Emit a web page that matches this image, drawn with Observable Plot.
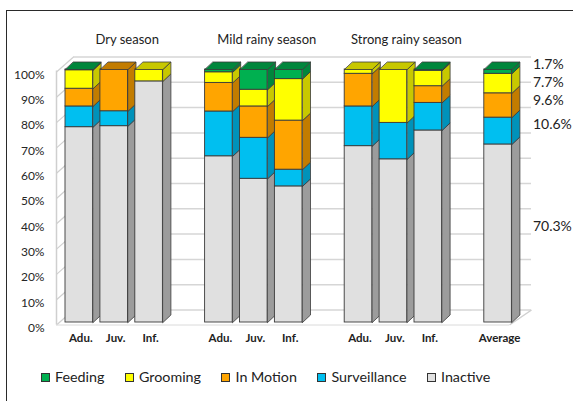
<!DOCTYPE html>
<html><head><meta charset="utf-8">
<script src="https://cdn.jsdelivr.net/npm/d3@7"></script>
<script src="https://cdn.jsdelivr.net/npm/@observablehq/plot@0.6"></script>
<style>
html,body{margin:0;padding:0;background:#fff;overflow:hidden;width:573px;height:401px;}
#chart{position:absolute;left:0;top:0;}
#frame{position:absolute;left:6px;top:10px;width:620px;height:440px;border:1.5px solid #2a2a2a;box-sizing:border-box;pointer-events:none;}
#legend{position:absolute;left:41px;top:368px;display:flex;gap:20.5px;font-family:Lato,sans-serif;font-size:14.3px;color:#222;line-height:18px;}
.item{display:flex;align-items:center;}
.sw{width:7px;height:7px;border:1px solid #333;margin-right:5px;}
</style></head>
<body><div id="chart"></div><div id="frame"></div><div id="legend"></div>
<script>
// ---- data ----
const groups = ["Dry season", "Mild rainy season", "Strong rainy season", "Average"];
const barGroup = [0, 0, 0, 1, 1, 1, 2, 2, 2, 3];
const barLabels = ["Adu.", "Juv.", "Inf.", "Adu.", "Juv.", "Inf.", "Adu.", "Juv.", "Inf.", "Average"];
const inactive     = [77.2, 77.6, 95.3, 65.7, 56.8, 53.8, 69.7, 64.5, 75.9, 70.3];
const surveillance = [8.2, 5.9, 0, 17.7, 16.2, 6.6, 15.7, 14.4, 10.9, 10.6];
const inMotion     = [7.0, 16.5, 0, 11.3, 12.4, 19.4, 12.9, 0, 6.6, 9.6];
const grooming     = [7.3, 0, 4.7, 4.2, 6.6, 16.4, 1.7, 21.1, 6.1, 7.7];
const feeding      = [0.3, 0, 0, 1.1, 8.0, 3.8, 0, 0, 0.5, 1.7];
const stackOrder = ["Inactive", "Surveillance", "In Motion", "Grooming", "Feeding"];
const legendOrder = ["Feeding", "Grooming", "In Motion", "Surveillance", "Inactive"];
const yTicks = [0, 10, 20, 30, 40, 50, 60, 70, 80, 90, 100];

const series = {"Inactive": inactive, "Surveillance": surveillance, "In Motion": inMotion, "Grooming": grooming, "Feeding": feeding};
const frontColor = {"Feeding": "#00b050", "Grooming": "#ffff00", "In Motion": "#ffa500", "Surveillance": "#00bff0", "Inactive": "#e0e0e0"};
const sideColor  = {"Feeding": "#00863c", "Grooming": "#c8c800", "In Motion": "#c27c00", "Surveillance": "#0092ba", "Inactive": "#9c9c9c"};

// ---- geometry helpers (pixel constants -> data units via Plot scales) ----
const SLOT_PX = 34.9, X0 = 65;
const xOpt = {type: "linear", domain: [0, 13], range: [X0, X0 + 13 * SLOT_PX]};
const yOpt = {type: "linear", domain: [0, 100], range: [322, 69]};
const X = Plot.scale({x: xOpt});
const Y = Plot.scale({y: yOpt});
const ux = px => X.invert(px);
const dxu = px => X.invert(X0 + px) - X.invert(X0);
const dyu = px => Y.invert(Y.apply(0) - px);   // upward pixels -> data units
const W = dxu(27.6), DX = dxu(8), DY = dyu(7.5);
const wallDY = dyu(12.5), frontDY = dyu(-2.5);

// slot positions from group membership
const slots = barGroup.map((g, i) => g * 4 + barGroup.slice(0, i).filter(h => h === g).length);

const fronts = [], sides = [], tops = [];
barLabels.forEach((lab, i) => {
  const s = slots[i];
  const total = d3.sum(stackOrder, b => series[b][i]);
  let cum = 0, topB = null;
  stackOrder.forEach(b => {
    const v = series[b][i];
    if (v <= 0) return;
    const lo = cum / total * 100, hi = (cum + v) / total * 100;
    cum += v; topB = b;
    fronts.push({x1: s, x2: s + W, y1: lo, y2: hi, fill: frontColor[b]});
    const id = `s${i}-${b}`;
    [[s + W, lo], [s + W + DX, lo + DY], [s + W + DX, hi + DY], [s + W, hi]]
      .forEach(([x, y]) => sides.push({x, y, id, fill: sideColor[b]}));
  });
  const id = `t${i}`;
  [[s, 100], [s + W, 100], [s + W + DX, 100 + DY], [s + DX, 100 + DY]]
    .forEach(([x, y]) => tops.push({x, y, id, fill: sideColor[topB]}));
});

// average labels, dodged so they don't overlap
const avgIdx = barLabels.length - 1;
const avgLabels = [];
{
  let cum = 0;
  const total = d3.sum(stackOrder, b => series[b][avgIdx]);
  stackOrder.forEach(b => {
    const v = series[b][avgIdx];
    avgLabels.push({b, v, mid: (cum + v / 2) / total * 100});
    cum += v;
  });
  avgLabels.sort((a, c) => c.mid - a.mid);
  let prev = -Infinity;
  avgLabels.forEach(l => {
    let py = Y.apply(l.mid) - 7;
    if (py < prev + 18) py = prev + 18;
    prev = py;
    l.y = Y.invert(py);
  });
}

const groupCenters = groups.slice(0, 3).map((g, gi) => ({g, x: gi * 4 + 1 + W / 2}));

const chart = Plot.plot({
  width: 573, height: 362, margin: 0,
  x: {...xOpt, axis: null},
  y: {...yOpt, axis: null},
  color: {type: "identity"},
  style: {fontFamily: "Lato, sans-serif", background: "transparent", overflow: "visible"},
  marks: [
    // back wall gridlines
    Plot.ruleY(yTicks, {y: d => d + wallDY, x1: ux(73), x2: ux(531), stroke: "#d6d6d6", strokeWidth: 1.5}),
    // left wall
    Plot.link(yTicks, {x1: ux(56), y1: d => d + frontDY, x2: ux(73), y2: d => d + wallDY, stroke: "#d0d0d0", strokeWidth: 1.2}),
    Plot.ruleX([ux(56)], {y1: frontDY, y2: 100 + frontDY + dyu(1), stroke: "#cfcfcf", strokeWidth: 1.5}),
    // floor
    Plot.ruleY([frontDY], {x1: ux(56), x2: ux(509), stroke: "#dadada", strokeWidth: 1}),
    Plot.link([0], {x1: ux(509), y1: frontDY, x2: ux(531), y2: wallDY, stroke: "#cfcfcf", strokeWidth: 1.5}),
    // bars
    Plot.line(sides, {x: "x", y: "y", z: "id", fill: "fill", stroke: "#3a3a3a", strokeWidth: 0.8, curve: "linear-closed", strokeLinejoin: "round"}),
    Plot.rect(fronts, {x1: "x1", x2: "x2", y1: "y1", y2: "y2", fill: "fill", stroke: "#3a3a3a", strokeWidth: 0.9}),
    Plot.line(tops, {x: "x", y: "y", z: "id", fill: "fill", stroke: "#3a3a3a", strokeWidth: 0.8, curve: "linear-closed", strokeLinejoin: "round"}),
    // y tick labels
    Plot.text(yTicks, {x: ux(44), y: d => d, text: d => d + "%", textAnchor: "end", dy: 5.5, fontSize: 12, fill: "#262626"}),
    // category labels
    Plot.text(barLabels, {x: (d, i) => slots[i] + W / 2, y: 0, text: d => d, dy: 16, dx: 1.5, fontSize: 11.5, fontWeight: "bold", fill: "#222"}),
    // group titles
    Plot.text(groupCenters, {x: "x", y: 100, text: "g", dy: -29.5, dx: 13, fontSize: 13, fill: "#222"}),
    // average value labels
    Plot.text(avgLabels, {x: slots[avgIdx] + W, y: "y", text: d => d.v.toFixed(1) + "%", textAnchor: "start", dx: 21, fontSize: 14, fill: "#222"})
  ]
});
document.getElementById("chart").appendChild(chart);

// legend
const leg = document.getElementById("legend");
legendOrder.forEach(b => {
  const it = document.createElement("div"); it.className = "item";
  const sw = document.createElement("div"); sw.className = "sw"; sw.style.background = frontColor[b];
  const t = document.createElement("span"); t.textContent = b;
  it.appendChild(sw); it.appendChild(t); leg.appendChild(it);
});
</script></body></html>
